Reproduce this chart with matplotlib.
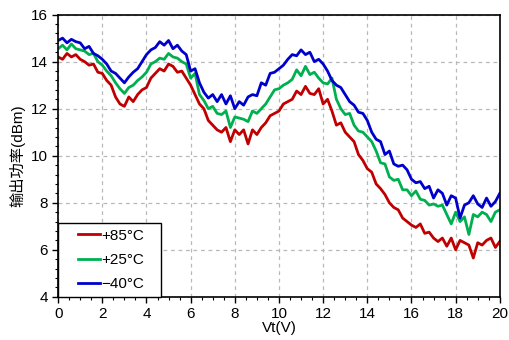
import numpy as np
import matplotlib.pyplot as plt
from matplotlib.ticker import MultipleLocator
from matplotlib.legend_handler import HandlerLine2D

plt.rcParams['font.family'] = ['Liberation Sans', 'Noto Sans CJK SC', 'DejaVu Sans']

# Vt-Werte (V), Schritt 0.2
vt = np.linspace(0, 20, 101)

# Ausgangsleistung (dBm) bei +85 °C
p_85 = [14.2, 14.1, 14.35, 14.2, 14.3, 14.1, 14.0, 13.85, 13.9, 13.55,
        13.5, 13.2, 13.0, 12.5, 12.2, 12.1, 12.5, 12.3, 12.6, 12.8,
        12.9, 13.3, 13.5, 13.7, 13.6, 13.9, 13.8, 13.55, 13.6, 13.3,
        13.0, 12.6, 12.2, 12.0, 11.5, 11.3, 11.1, 11.0, 11.2, 10.6,
        11.1, 10.9, 11.1, 10.5, 11.1, 10.9, 11.2, 11.4, 11.7, 11.8,
        11.9, 12.2, 12.3, 12.4, 12.75, 12.6, 12.95, 12.65, 12.6, 12.85,
        12.2, 12.4, 11.9, 11.3, 11.4, 11.0, 10.8, 10.6, 10.05, 9.8,
        9.45, 9.3, 8.8, 8.6, 8.35, 8.0, 7.8, 7.7, 7.35, 7.2,
        7.05, 6.95, 7.1, 6.7, 6.75, 6.5, 6.35, 6.5, 6.15, 6.5,
        6.0, 6.4, 6.3, 6.2, 5.65, 6.3, 6.2, 6.4, 6.5, 6.1, 6.35]

# +25 °C
p_25 = [14.55, 14.7, 14.5, 14.75, 14.55, 14.5, 14.45, 14.3, 14.35, 14.0,
        13.85, 13.6, 13.4, 13.1, 12.85, 12.65, 12.9, 13.0, 13.2, 13.35,
        13.55, 13.9, 14.0, 14.15, 14.1, 14.35, 14.2, 14.15, 14.0, 13.9,
        13.3, 13.5, 12.6, 12.35, 12.0, 12.1, 11.8, 11.75, 11.9, 11.2,
        11.65, 11.6, 11.55, 11.45, 11.9, 11.8, 12.0, 12.2, 12.5, 12.8,
        12.85, 13.0, 13.1, 13.25, 13.65, 13.4, 13.8, 13.45, 13.55, 13.3,
        13.1, 13.05, 13.3, 12.4, 12.0, 11.75, 11.8, 11.3, 11.05, 11.0,
        10.8, 10.6, 10.2, 9.7, 9.65, 9.1, 8.95, 9.0, 8.55, 8.55,
        8.3, 8.5, 8.15, 8.1, 7.9, 7.95, 7.85, 7.9, 7.5, 7.1,
        7.6, 7.2, 7.4, 6.65, 7.5, 7.4, 7.6, 7.5, 7.2, 7.6, 7.7]

# -40 °C
p_m40 = [14.9, 15.0, 14.8, 14.95, 14.85, 14.8, 14.55, 14.65, 14.35, 14.25,
         14.1, 13.9, 13.6, 13.5, 13.3, 13.1, 13.35, 13.55, 13.7, 14.0,
         14.3, 14.5, 14.6, 14.85, 14.7, 14.9, 14.55, 14.7, 14.45, 14.3,
         13.6, 13.7, 13.1, 12.7, 12.45, 12.6, 12.3, 12.6, 12.2, 12.55,
         12.0, 12.3, 12.15, 12.5, 12.6, 12.55, 13.1, 13.0, 13.5, 13.55,
         13.7, 13.85, 14.1, 14.3, 14.25, 14.5, 14.3, 14.4, 14.0, 14.1,
         13.9, 13.6, 13.2, 13.0, 12.9, 12.6, 12.3, 12.15, 11.85, 11.8,
         11.5, 11.0, 10.7, 10.6, 10.05, 10.2, 9.65, 9.55, 9.6, 9.4,
         9.0, 8.85, 8.9, 8.6, 8.7, 8.2, 8.55, 8.4, 7.9, 8.3,
         8.2, 7.35, 7.9, 8.0, 8.3, 7.95, 7.8, 8.2, 7.85, 8.05, 8.4]


# Legendenlinie etwas nach rechts versetzt (wie im Original)
class OffsetLine(HandlerLine2D):
    def create_artists(self, legend, orig_handle, xdescent, ydescent,
                       width, height, fontsize, trans):
        arts = super().create_artists(legend, orig_handle, xdescent, ydescent,
                                      width, height, fontsize, trans)
        for a in arts:
            x = np.asarray(a.get_xdata(), dtype=float)
            x0, x1 = x[0], x[-1]
            a.set_xdata(np.linspace(x0 + 0.4 * (x1 - x0), x1, len(x)))
        return arts


fig = plt.figure(figsize=(5.1, 3.4), dpi=100)
ax = fig.add_axes([0.114, 0.127, 0.866, 0.83])

ax.plot(vt, p_85, color="#C00000", linewidth=2.0, label="+85°C")
ax.plot(vt, p_25, color="#00B050", linewidth=2.0, label="+25°C")
ax.plot(vt, p_m40, color="#0000CC", linewidth=2.0, label="\u221240°C")

ax.set_xlim(0, 20)
ax.set_ylim(4, 16)
ax.xaxis.set_major_locator(MultipleLocator(2))
ax.xaxis.set_minor_locator(MultipleLocator(0.5))
ax.yaxis.set_major_locator(MultipleLocator(2))
ax.yaxis.set_minor_locator(MultipleLocator(0.4))
ax.tick_params(which="major", length=4, width=1, labelsize=11, direction="out")
ax.tick_params(which="minor", length=2.5, width=0.8, direction="out")
ax.grid(True, which="major", linestyle=(0, (3, 3)), color="#b8b8b8", linewidth=0.9)
for s in ax.spines.values():
    s.set_linewidth(1.2)

ax.set_xlabel("Vt(V)", fontsize=11, labelpad=0)
ax.set_ylabel("输出功率(dBm)", fontsize=11, labelpad=4)

leg = ax.legend(loc="lower left", bbox_to_anchor=(0, 0, 4.65 / 20, 3.1 / 12),
                mode="expand", borderaxespad=0,
                fancybox=False, edgecolor="black", fontsize=11,
                handlelength=2.4, handletextpad=0.1, labelspacing=0.68,
                borderpad=0.35, framealpha=1,
                handler_map={plt.Line2D: OffsetLine()})
leg.get_frame().set_linewidth(1.0)

fig.savefig("out.png", dpi=100)
